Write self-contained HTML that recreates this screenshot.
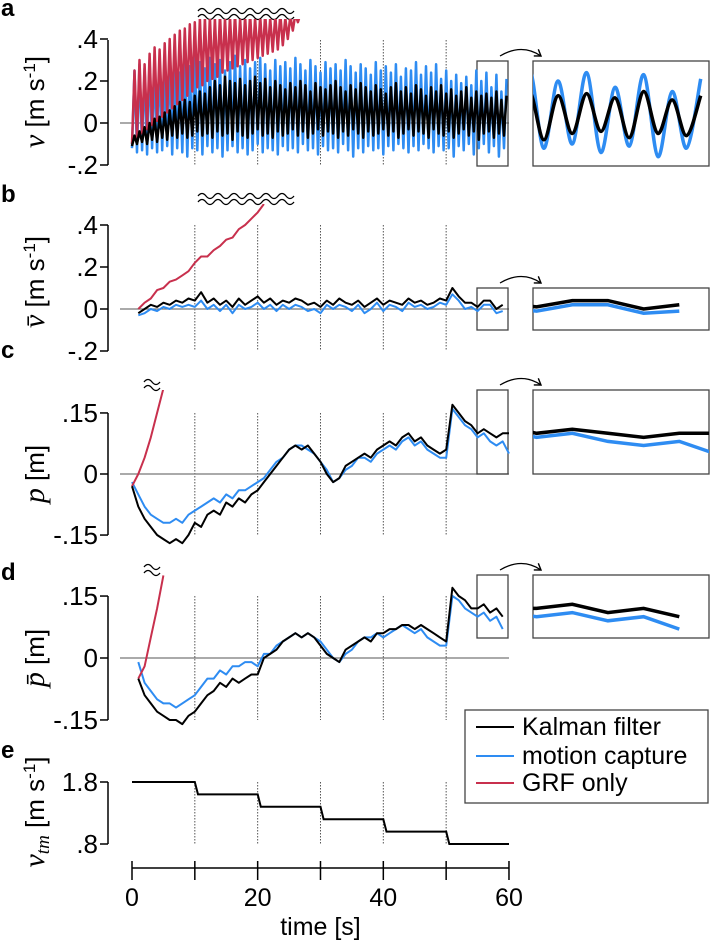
<!DOCTYPE html>
<html><head><meta charset="utf-8"><style>
body{margin:0;background:#fff}
svg{display:block;font-family:"Liberation Sans",sans-serif}
.tk{font-size:26px;text-anchor:end;dominant-baseline:central}
.xt{font-size:25px;text-anchor:middle}
.lt{font-size:24px;font-weight:bold}
.yt{font-size:26px;text-anchor:middle}
.sv{font-family:"Liberation Serif",serif;font-style:italic}
</style></head><body>
<svg id="c" width="710" height="940" viewBox="0 0 710 940">
<defs>
<clipPath id="ca"><rect x="100" y="19" width="420" height="160"/></clipPath>
<clipPath id="cb"><rect x="100" y="204" width="420" height="160"/></clipPath>
<clipPath id="cc"><rect x="100" y="390" width="420" height="160"/></clipPath>
<clipPath id="cd"><rect x="100" y="575" width="420" height="160"/></clipPath>
<clipPath id="ia"><rect x="533" y="61" width="176" height="105"/></clipPath>
<clipPath id="ib"><rect x="533" y="288" width="176" height="42"/></clipPath>
<clipPath id="ic"><rect x="533" y="390" width="176" height="84"/></clipPath>
<clipPath id="id"><rect x="533" y="575" width="176" height="63"/></clipPath>
<marker id="ah" markerWidth="10" markerHeight="10" refX="7" refY="5" orient="auto" markerUnits="userSpaceOnUse"><path d="M1,1 L7,5 L1,9" fill="none" stroke="#000" stroke-width="1.4"/></marker>
</defs>
<g id="static"></g>
<g id="marks"></g>
</svg>
<script>
// Panel a: per-cycle peaks/troughs (m/s), cycle period 0.8 s
const aBluePk=[.25,.28,.26,.3,.27,.29,.25,.31,.28,.24,.3,.27,.33,.29,.26,.31,.28,.3,.25,.29,.32,.27,.3,.26,.29,.31,.28,.25,.3,.27,.29,.26,.31,.28,.25,.3,.27,.24,.29,.26,.28,.25,.3,.27,.24,.28,.26,.23,.29,.25,.27,.24,.28,.22,.26,.25,.29,.23,.27,.24,.28,.21,.25,.2,.23,.19,.22,.18,.25,.2,.24,.17,.23,.15,.21];
const aBlueTr=[-.12,-.14,-.13,-.15,-.12,-.14,-.13,-.11,-.15,-.12,-.14,-.16,-.12,-.13,-.15,-.11,-.14,-.12,-.16,-.13,-.11,-.14,-.12,-.15,-.13,-.1,-.14,-.12,-.13,-.15,-.11,-.13,-.12,-.14,-.1,-.13,-.12,-.15,-.11,-.13,-.12,-.14,-.1,-.13,-.16,-.12,-.14,-.11,-.13,-.12,-.15,-.11,-.13,-.1,-.12,-.14,-.11,-.13,-.1,-.12,-.14,-.11,-.13,-.12,-.16,-.11,-.13,-.1,-.15,-.12,-.1,-.14,-.11,-.16,-.12];
const aBlackPk=[-.06,-.04,-.02,0,.02,.03,.05,.06,.08,.1,.11,.1,.13,.15,.14,.17,.2,.18,.22,.2,.19,.21,.18,.2,.22,.19,.21,.17,.2,.18,.16,.19,.17,.2,.18,.15,.19,.17,.16,.18,.2,.17,.15,.18,.16,.19,.17,.15,.18,.16,.14,.17,.19,.15,.17,.14,.18,.16,.13,.17,.15,.18,.14,.16,.13,.15,.17,.12,.15,.13,.14,.12,.15,.11,.13];
const aBlackTr=[-.11,-.1,-.09,-.1,-.08,-.09,-.07,-.08,-.06,-.07,-.05,-.07,-.06,-.04,-.06,-.05,-.07,-.04,-.06,-.05,-.08,-.04,-.06,-.07,-.05,-.03,-.06,-.05,-.07,-.04,-.06,-.05,-.03,-.06,-.04,-.07,-.05,-.03,-.06,-.04,-.05,-.07,-.04,-.06,-.03,-.05,-.07,-.04,-.06,-.05,-.03,-.06,-.04,-.07,-.05,-.03,-.06,-.04,-.05,-.07,-.03,-.05,-.06,-.04,-.07,-.05,-.03,-.06,-.04,-.08,-.05,-.04,-.07,-.05,-.06];
const aRedPk=[.25,.3,.28,.33,.36,.35,.38,.4,.42,.44,.45,.47,.48,.5,.5,.51,.5,.52,.5,.51,.52,.5,.51,.52,.5,.51,.52,.5,.51,.52,.5,.51,.52,.52];
const aRedTr=[-.1,-.07,-.05,-.03,-.01,.01,.03,.05,.07,.09,.11,.13,.15,.17,.18,.2,.21,.22,.24,.25,.26,.27,.28,.29,.3,.31,.32,.33,.34,.35,.37,.4,.44,.48];
// Panel b: mean velocity, t = 1..59 s
const bBlack=[-.02,0,.02,.01,.03,.02,.04,.03,.05,.04,.08,.03,.05,.02,.04,.01,.05,.02,.04,.06,.03,.05,.02,.04,.03,.05,.04,.02,.03,.01,.04,.02,.05,.03,.02,.04,.01,.03,.05,.02,.04,.03,.02,.05,.03,.04,.02,.03,.05,.04,.1,.06,.03,.03,.01,.04,.04,.0,.02];
const bBlue=[-.03,-.02,0,-.01,.01,0,.02,.01,.02,.01,.04,0,.02,-.01,.02,-.02,.02,0,.01,.03,0,.02,-.01,.02,0,.02,.01,-.01,0,-.02,.02,0,.02,.01,-.01,.02,-.02,0,.03,-.01,.02,.01,-.01,.03,.01,.02,0,.01,.03,.02,.07,.04,0,.01,-.01,.02,.02,-.02,-.01];
const bRed=[0,.03,.05,.09,.1,.13,.14,.16,.18,.22,.25,.25,.28,.3,.33,.34,.38,.4,.43,.46,.5];
// Panel c: position, t = 0..60 s
const cBlack=[-.03,-.08,-.11,-.13,-.15,-.16,-.17,-.16,-.17,-.15,-.12,-.13,-.1,-.09,-.1,-.07,-.08,-.06,-.07,-.05,-.04,-.02,0,.02,.04,.06,.07,.06,.07,.05,.03,0,-.02,-.01,.02,.03,.04,.05,.04,.06,.07,.08,.07,.09,.1,.08,.09,.07,.06,.05,.06,.17,.15,.13,.12,.1,.11,.1,.09,.1,.1];
const cBlue=[-.02,-.05,-.08,-.1,-.11,-.12,-.12,-.11,-.12,-.1,-.09,-.08,-.07,-.06,-.07,-.05,-.06,-.04,-.04,-.03,-.02,-.01,.01,.03,.04,.06,.07,.07,.06,.05,.03,.01,-.02,-.01,.01,.02,.04,.04,.03,.05,.06,.07,.06,.08,.09,.07,.08,.06,.05,.04,.04,.16,.14,.12,.11,.09,.1,.08,.07,.08,.05];
const cRed=[-.03,0,.04,.09,.15,.21];
// Panel d: mean position, t = 1..59 s
const dBlack=[-.05,-.09,-.11,-.13,-.14,-.15,-.15,-.16,-.14,-.13,-.11,-.09,-.08,-.06,-.07,-.05,-.06,-.05,-.04,-.04,0,.01,.02,.04,.05,.06,.05,.06,.05,.03,.01,0,-.01,.02,.03,.04,.05,.04,.06,.06,.07,.07,.08,.08,.07,.08,.07,.06,.05,.04,.17,.15,.14,.12,.12,.13,.11,.12,.1];
const dBlue=[-.01,-.06,-.08,-.1,-.11,-.11,-.12,-.11,-.1,-.09,-.07,-.05,-.05,-.03,-.04,-.02,-.02,-.01,-.01,-.02,.01,.01,.03,.04,.05,.06,.05,.06,.05,.04,.02,0,-.01,.01,.02,.04,.05,.05,.06,.05,.06,.07,.08,.07,.06,.07,.05,.04,.03,.03,.15,.14,.12,.11,.1,.11,.09,.1,.07];
const dRed=[-.05,-.02,.05,.12,.2];
// Panel e: treadmill speed per 10 s block
const eSpeed=[1.8,1.6,1.4,1.2,1.0,0.8];
const xTicks=[0,20,40,60];

const NS="http://www.w3.org/2000/svg";
const S=document.getElementById('static'), M=document.getElementById('marks');
const X=t=>132+t*6.283;
const ya=v=>123-v*210, yb=v=>309-v*210, yc=p=>474-p*407, yd=p=>658-p*413, ye=s=>844-(s-0.8)*62;
const BLUE="#2e8cf2", RED="#c8304d";
function mk(tag,at,parent){const e=document.createElementNS(NS,tag);for(const k in at)e.setAttribute(k,at[k]);(parent||S).appendChild(e);return e;}
function pathD(pts,smooth){
  if(!smooth) return pts.map((p,i)=>(i?'L':'M')+p[0].toFixed(1)+','+p[1].toFixed(1)).join('');
  let d='M'+pts[0][0]+','+pts[0][1];
  for(let i=0;i<pts.length-1;i++){const p0=pts[Math.max(0,i-1)],p1=pts[i],p2=pts[i+1],p3=pts[Math.min(pts.length-1,i+2)];
    d+='C'+(p1[0]+(p2[0]-p0[0])/6)+','+(p1[1]+(p2[1]-p0[1])/6)+' '+(p2[0]-(p3[0]-p1[0])/6)+','+(p2[1]-(p3[1]-p1[1])/6)+' '+p2[0]+','+p2[1];}
  return d;
}
function osc(pk,tr){const pts=[];const n=Math.min(pk.length,tr.length);for(let i=0;i<n;i++){pts.push([i*0.8,tr[i]]);pts.push([i*0.8+0.4,pk[i]]);}return pts;}
function series(arr,t0){return arr.map((v,i)=>[t0+i,v]);}
const insX=t=>533+(t-54.9)*6.283*5.68;

function drawSeries(pts,yf,col,w,clip,name,inset,smooth){
  const p=mk('path',{d:pathD(pts.map(q=>[X(q[0]),yf(q[1])]),false),fill:'none',stroke:col,'stroke-width':w,'clip-path':'url(#'+clip+')','stroke-linejoin':'round'},M);
  
  
  if(inset){
    const ip=mk('path',{d:pathD(pts.filter(q=>q[0]>53&&q[0]<62).map(q=>[insX(q[0]),yf(q[1])]),smooth),fill:'none',stroke:col,'stroke-width':3.5,'clip-path':'url(#'+inset+')'},M);
    
    
  }
}

const panels=[
 {id:'a',yf:ya,top:40,bot:165,ticks:[[.4,'.4'],[.2,'.2'],[0,'0'],[-.2,'-.2']],letterY:16,box:[61,166]},
 {id:'b',yf:yb,top:225,bot:351,ticks:[[.4,'.4'],[.2,'.2'],[0,'0'],[-.2,'-.2']],letterY:202,box:[288,330]},
 {id:'c',yf:yc,top:413,bot:535,ticks:[[.15,'.15'],[0,'0'],[-.15,'-.15']],letterY:358,box:[390,474]},
 {id:'d',yf:yd,top:596,bot:720,ticks:[[.15,'.15'],[0,'0'],[-.15,'-.15']],letterY:580,box:[575,638]},
 {id:'e',yf:ye,top:782,bot:844,ticks:[[1.8,'1.8'],[.8,'.8']],letterY:758,box:null}
];
panels.forEach(P=>{
  const t=mk('text',{x:1,y:P.letterY,class:'lt'});t.textContent=P.id;
  
  
  const ax=mk('line',{x1:108,x2:108,y1:P.top,y2:P.bot,stroke:'#000','stroke-width':1.5});
  
  
  P.ticks.forEach(k=>{
    const y=P.yf(k[0]);
    mk('line',{x1:100,x2:108,y1:y,y2:y,stroke:'#000','stroke-width':1.5});
    const tx=mk('text',{x:98,y:y,class:'tk'});tx.textContent=k[1];
    
    
  });
  for(let s=10;s<=50;s+=10){mk('line',{x1:X(s),x2:X(s),y1:P.top,y2:P.bot,stroke:'#555','stroke-width':1,'stroke-dasharray':'1.5,1.5'});}
  if(P.id!=='e'){const z=mk('line',{x1:120,x2:509,y1:P.yf(0),y2:P.yf(0),stroke:'#777','stroke-width':1.3});
    
    }
  if(P.box){
    const b1=mk('rect',{x:477,y:P.box[0],width:31,height:P.box[1]-P.box[0],fill:'none',stroke:'#444','stroke-width':1.3});
    
    
    const b2=mk('rect',{x:533,y:P.box[0],width:176,height:P.box[1]-P.box[0],fill:'none',stroke:'#444','stroke-width':1.3});
    
    
    const y0=P.box[0];
    const ar=mk('path',{d:`M500,${y0-5} Q522,${y0-18} 541,${y0-5}`,fill:'none',stroke:'#000','stroke-width':1.3,'marker-end':'url(#ah)'});
    
    
  }
});
function wavy(x1,x2,y,name){
  [y-3,y+3].forEach(yy=>{let d='M'+x1+','+yy;for(let x=x1;x<x2;x+=16){d+=`q4,-5 8,0 q4,5 8,0`;}
    const w=mk('path',{d:d,fill:'none',stroke:'#000','stroke-width':1.3});
    
    });
}
wavy(198,294,14,'break-mark-a');wavy(198,294,199,'break-mark-b');wavy(144,160,385,'break-mark-c');wavy(144,160,570,'break-mark-d');

drawSeries(osc(aBluePk,aBlueTr),ya,BLUE,2.5,'ca','velocity-motion-capture','ia',true);
drawSeries(osc(aRedPk,aRedTr),ya,RED,2.5,'ca','velocity-grf-only',null);
drawSeries(osc(aBlackPk,aBlackTr),ya,'#000',2.5,'ca','velocity-kalman','ia',true);
drawSeries(series(bBlue,1),yb,BLUE,2,'cb','mean-velocity-motion-capture','ib');
drawSeries(series(bRed,1),yb,RED,2,'cb','mean-velocity-grf-only',null);
drawSeries(series(bBlack,1),yb,'#000',2,'cb','mean-velocity-kalman','ib');
drawSeries(series(cBlue,0),yc,BLUE,2,'cc','position-motion-capture','ic');
drawSeries(series(cRed,0),yc,RED,2,'cc','position-grf-only',null);
drawSeries(series(cBlack,0),yc,'#000',2,'cc','position-kalman','ic');
drawSeries(series(dBlue,1),yd,BLUE,2,'cd','mean-position-motion-capture','id');
drawSeries(series(dRed,1),yd,RED,2,'cd','mean-position-grf-only',null);
drawSeries(series(dBlack,1),yd,'#000',2,'cd','mean-position-kalman','id');
(function(){const pts=[];eSpeed.forEach((s,i)=>{pts.push([i*10+0.5,s]);pts.push([i*10+10,s]);});
  pts[0][0]=0;
  pts[pts.length-1][0]=60;
  const p=mk('path',{d:pathD(pts.map(q=>[X(q[0]),ye(q[1])])),fill:'none',stroke:'#000','stroke-width':2},M);
  
  })();

const xa=mk('line',{x1:X(0),x2:X(60),y1:868,y2:868,stroke:'#000','stroke-width':1.5});


for(let s=0;s<=60;s+=10)mk('line',{x1:X(s),x2:X(s),y1:861,y2:880,stroke:'#000','stroke-width':1.5});
xTicks.forEach(s=>{const t=mk('text',{x:X(s),y:906,class:'xt'});t.textContent=s;
  
  });
const xt=mk('text',{x:X(30),y:935,class:'xt'});xt.textContent='time [s]';



function ytitle(cy,html,name){const t=mk('text',{x:0,y:0,class:'yt',transform:`translate(44,${cy}) rotate(-90)`});t.innerHTML=html;
  
  }
ytitle(102,'<tspan class="sv" font-size="30">v</tspan> [m s<tspan dy="-9" font-size="17">-1</tspan><tspan dy="9">]</tspan>','y-axis-title-a');
ytitle(282,'<tspan class="sv" font-size="30">v̄</tspan> [m s<tspan dy="-9" font-size="17">-1</tspan><tspan dy="9">]</tspan>','y-axis-title-b');
ytitle(474,'<tspan class="sv" font-size="30">p</tspan> [m]','y-axis-title-c');
ytitle(658,'<tspan class="sv" font-size="30">p̄</tspan> [m]','y-axis-title-d');
ytitle(812,'<tspan class="sv" font-size="30">v</tspan><tspan class="sv" font-size="19" dy="5">tm</tspan><tspan dy="-5"> [m s</tspan><tspan dy="-9" font-size="17">-1</tspan><tspan dy="9">]</tspan>','y-axis-title-e');

const lg=mk('g',{});


mk('rect',{x:465,y:710,width:243,height:93,fill:'#fff',stroke:'#444','stroke-width':1.3},lg);
[['Kalman filter','#000',727],['motion capture',BLUE,756],['GRF only',RED,783]].forEach(e=>{
  const g=mk('g',{},lg);
  
  
  mk('line',{x1:476,x2:514,y1:e[2],y2:e[2],stroke:e[1],'stroke-width':2},g);
  const t=mk('text',{x:522,y:e[2],'font-size':25,'dominant-baseline':'central'},g);t.textContent=e[0];
});
</script>
</body></html>
